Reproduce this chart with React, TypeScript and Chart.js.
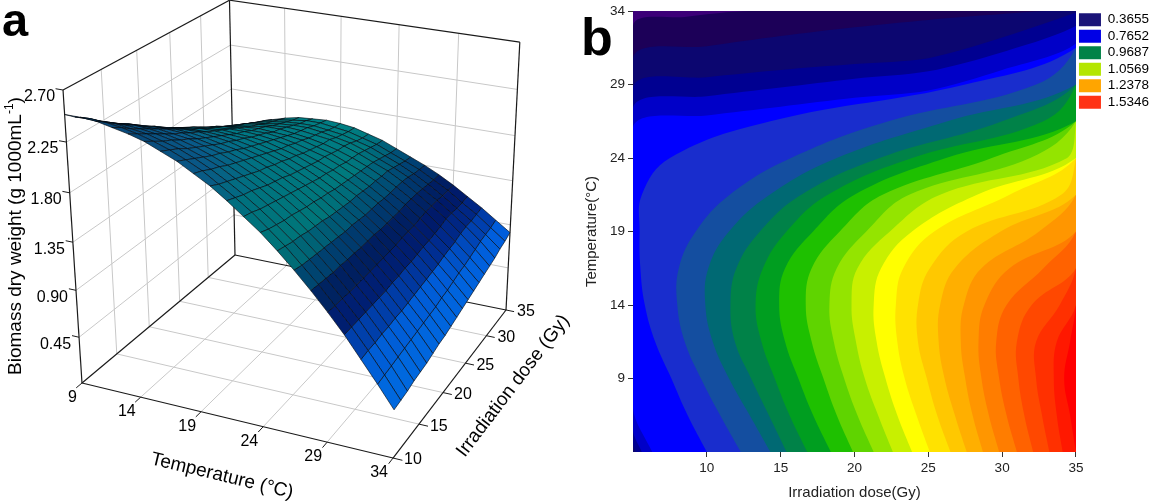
import React, { useEffect, useRef } from "react";
import { Chart, registerables } from "chart.js";

Chart.register(...registerables);

const FONT = "'Liberation Sans', Arial, Helvetica, sans-serif";

/* ======================= Panel a : response surface ======================= */
const temperatureTicks = [9, 14, 19, 24, 29, 34];
const doseTicks = [10, 15, 20, 25, 30, 35];
const biomassTicks = [0.45, 0.9, 1.35, 1.8, 2.25, 2.7];
const biomassTickLabels = ["0.45", "0.90", "1.35", "1.80", "2.25", "2.70"];

const surfaceTemperatures = [
  9, 10.25, 11.5, 12.75, 14, 15.25, 16.5, 17.75, 19, 20.25, 21.5, 22.75, 24, 25.25, 26.5, 27.75, 29, 30.25, 31.5,
  32.75, 34,
];
const surfaceDoses = [
  10, 11.25, 12.5, 13.75, 15, 16.25, 17.5, 18.75, 20, 21.25, 22.5, 23.75, 25, 26.25, 27.5, 28.75, 30, 31.25, 32.5,
  33.75, 35,
];
// biomass dry weight (g 1000 mL-1) along surfaceTemperatures, one row per dose
const biomassDose10 = [2.49, 2.49, 2.48, 2.45, 2.42, 2.38, 2.32, 2.26, 2.18, 2.1, 2.0, 1.89, 1.78, 1.65, 1.51, 1.36, 1.2, 1.03, 0.84, 0.65, 0.45];
const biomassDose11_25 = [2.42, 2.43, 2.42, 2.4, 2.37, 2.33, 2.28, 2.22, 2.15, 2.06, 1.97, 1.87, 1.75, 1.63, 1.49, 1.35, 1.19, 1.03, 0.85, 0.66, 0.46];
const biomassDose12_5 = [2.36, 2.36, 2.36, 2.34, 2.32, 2.28, 2.24, 2.18, 2.11, 2.03, 1.94, 1.84, 1.73, 1.61, 1.48, 1.34, 1.19, 1.03, 0.85, 0.67, 0.47];
const biomassDose13_75 = [2.29, 2.3, 2.3, 2.29, 2.27, 2.24, 2.19, 2.14, 2.08, 2.0, 1.92, 1.82, 1.71, 1.6, 1.47, 1.33, 1.18, 1.03, 0.86, 0.68, 0.49];
const biomassDose15 = [2.23, 2.24, 2.25, 2.24, 2.22, 2.19, 2.15, 2.1, 2.04, 1.97, 1.89, 1.8, 1.7, 1.58, 1.46, 1.33, 1.18, 1.03, 0.86, 0.69, 0.5];
const biomassDose16_25 = [2.17, 2.19, 2.19, 2.19, 2.17, 2.15, 2.11, 2.07, 2.01, 1.94, 1.86, 1.78, 1.68, 1.57, 1.45, 1.32, 1.18, 1.03, 0.87, 0.7, 0.51];
const biomassDose17_5 = [2.11, 2.13, 2.14, 2.14, 2.13, 2.1, 2.07, 2.03, 1.98, 1.91, 1.84, 1.76, 1.66, 1.56, 1.44, 1.32, 1.18, 1.03, 0.87, 0.71, 0.53];
const biomassDose18_75 = [2.05, 2.07, 2.08, 2.09, 2.08, 2.06, 2.03, 2.0, 1.95, 1.89, 1.82, 1.74, 1.65, 1.54, 1.43, 1.31, 1.18, 1.04, 0.88, 0.72, 0.55];
const biomassDose20 = [1.99, 2.02, 2.03, 2.04, 2.04, 2.02, 2.0, 1.96, 1.92, 1.86, 1.79, 1.72, 1.63, 1.53, 1.43, 1.31, 1.18, 1.04, 0.89, 0.73, 0.56];
const biomassDose21_25 = [1.93, 1.96, 1.98, 1.99, 1.99, 1.98, 1.96, 1.93, 1.89, 1.84, 1.77, 1.7, 1.62, 1.52, 1.42, 1.31, 1.18, 1.05, 0.9, 0.74, 0.58];
const biomassDose22_5 = [1.88, 1.91, 1.93, 1.95, 1.95, 1.94, 1.93, 1.9, 1.86, 1.81, 1.75, 1.68, 1.6, 1.51, 1.41, 1.3, 1.18, 1.05, 0.91, 0.76, 0.6];
const biomassDose23_75 = [1.82, 1.86, 1.89, 1.9, 1.91, 1.9, 1.89, 1.87, 1.83, 1.79, 1.73, 1.67, 1.59, 1.51, 1.41, 1.3, 1.19, 1.06, 0.92, 0.77, 0.62];
const biomassDose25 = [1.77, 1.81, 1.84, 1.86, 1.87, 1.87, 1.86, 1.84, 1.81, 1.76, 1.71, 1.65, 1.58, 1.5, 1.41, 1.3, 1.19, 1.07, 0.93, 0.79, 0.64];
const biomassDose26_25 = [1.71, 1.76, 1.79, 1.82, 1.83, 1.83, 1.83, 1.81, 1.78, 1.74, 1.7, 1.64, 1.57, 1.49, 1.4, 1.3, 1.19, 1.07, 0.95, 0.81, 0.66];
const biomassDose27_5 = [1.66, 1.71, 1.75, 1.77, 1.79, 1.8, 1.79, 1.78, 1.76, 1.72, 1.68, 1.62, 1.56, 1.49, 1.4, 1.31, 1.2, 1.08, 0.96, 0.82, 0.68];
const biomassDose28_75 = [1.61, 1.66, 1.7, 1.73, 1.75, 1.77, 1.77, 1.75, 1.73, 1.7, 1.66, 1.61, 1.55, 1.48, 1.4, 1.31, 1.21, 1.09, 0.97, 0.84, 0.7];
const biomassDose30 = [1.56, 1.62, 1.66, 1.7, 1.72, 1.73, 1.74, 1.73, 1.71, 1.69, 1.65, 1.6, 1.54, 1.48, 1.4, 1.31, 1.21, 1.11, 0.99, 0.86, 0.72];
const biomassDose31_25 = [1.52, 1.57, 1.62, 1.66, 1.68, 1.7, 1.71, 1.71, 1.69, 1.66, 1.63, 1.58, 1.52, 1.46, 1.39, 1.3, 1.21, 1.11, 1.0, 0.88, 0.74];
const biomassDose32_5 = [1.47, 1.53, 1.58, 1.62, 1.65, 1.67, 1.68, 1.68, 1.66, 1.64, 1.6, 1.56, 1.5, 1.44, 1.37, 1.29, 1.2, 1.1, 1.0, 0.89, 0.77];
const biomassDose33_75 = [1.42, 1.49, 1.54, 1.59, 1.62, 1.64, 1.66, 1.66, 1.64, 1.62, 1.58, 1.54, 1.48, 1.42, 1.36, 1.28, 1.2, 1.1, 1.01, 0.9, 0.79];
const biomassDose35 = [1.38, 1.45, 1.5, 1.55, 1.59, 1.62, 1.63, 1.64, 1.63, 1.61, 1.57, 1.53, 1.47, 1.41, 1.35, 1.28, 1.2, 1.11, 1.02, 0.92, 0.82];
const biomassGrid = [
  biomassDose10, biomassDose11_25, biomassDose12_5, biomassDose13_75, biomassDose15, biomassDose16_25,
  biomassDose17_5, biomassDose18_75, biomassDose20, biomassDose21_25, biomassDose22_5, biomassDose23_75,
  biomassDose25, biomassDose26_25, biomassDose27_5, biomassDose28_75, biomassDose30, biomassDose31_25,
  biomassDose32_5, biomassDose33_75, biomassDose35,
];

/* ======================= Panel b : contour map ======================= */
const contourDoseRange = [5, 35];
const contourTempRange = [4, 34];
const contourDoseTicks = [10, 15, 20, 25, 30, 35];
const contourTempTicks = [9, 14, 19, 24, 29, 34];
const legendValues = ["0.3655", "0.7652", "0.9687", "1.0569", "1.2378", "1.5346"];
const legendColors = ["#1a1478", "#0000e6", "#008248", "#b4e600", "#ffa500", "#ff3214"];
// colour of each contour band, from the lowest level to the highest
const bandColors = [
  "rgb(60,0,120)", "rgb(28,0,88)", "rgb(12,6,112)", "rgb(0,0,145)", "rgb(0,0,200)", "rgb(0,0,255)",
  "rgb(25,45,205)", "rgb(20,78,160)", "rgb(0,105,115)", "rgb(0,130,72)", "rgb(0,158,32)",
  "rgb(30,192,0)", "rgb(95,212,0)", "rgb(148,228,0)", "rgb(200,240,0)", "rgb(255,255,0)",
  "rgb(255,226,0)", "rgb(255,200,0)", "rgb(255,175,0)", "rgb(255,150,0)", "rgb(255,125,0)",
  "rgb(255,98,0)", "rgb(255,72,0)", "rgb(255,48,0)", "rgb(255,24,0)", "rgb(255,0,0)",
];
// upper (dark) level lines as [dose, temperature] points
const darkLevelLines = [
  [[5, 4], [5, 33.0], [8.5, 33.6], [13, 34]],
  [[5, 4], [5, 30.8], [10, 31.6], [15, 32.3], [20, 32.9], [25, 33.4], [30, 33.8], [33, 34]],
  [[5.2, 4], [5, 4.6], [5, 28.8], [10, 29.5], [15, 30.0], [20, 30.4], [25, 30.8], [30, 32.2], [35, 33.9]],
  [[5.6, 4], [5, 5.5], [5, 27.4], [10, 28.2], [15, 28.8], [20, 29.4], [25, 29.9], [30, 31.2], [35, 33.0]],
  [[6.3, 4], [5, 7], [5, 26.1], [10, 26.9], [15, 27.5], [20, 28.1], [25, 28.6], [30, 30.0], [35, 31.8]],
];
// C-shaped level lines: dose of each line at these temperatures
const levelTemperatures = [4, 6.5, 9, 11.5, 14, 16.5, 19, 21.5, 24, 26.5, 29, 31.5, 34];
const levelLineDoses = [
  [10.0, 8.7, 7.6, 6.5, 5.8, 5.5, 5.45, 5.6, 7.5, 14.3, 27.5, 35, 35],
  [12.3, 10.9, 9.6, 8.5, 8.0, 8.1, 9.25, 11.55, 15.7, 22.3, 32.3, 35, 35],
  [14.3, 12.9, 11.5, 10.4, 9.9, 10.1, 11.5, 14.25, 18.8, 26.3, 35, 35, 35],
  [15.4, 14.2, 13.0, 11.9, 11.6, 12.0, 13.6, 16.4, 21.7, 30.0, 35, 35, 35],
  [16.8, 15.6, 14.6, 13.7, 13.3, 13.8, 15.4, 18.2, 23.9, 32.8, 35, 35, 35],
  [18.4, 17.2, 16.2, 15.3, 14.9, 15.3, 17.2, 20.0, 26.2, 35, 35, 35, 35],
  [19.9, 18.8, 17.9, 17.1, 16.7, 17.1, 19.0, 21.9, 29.3, 35, 35, 35, 35],
  [21.3, 20.2, 19.3, 18.6, 18.3, 18.8, 20.8, 23.7, 31.9, 35, 35, 35, 35],
  [22.6, 21.6, 20.7, 20.1, 19.8, 20.2, 22.4, 25.8, 34.4, 35, 35, 35, 35],
  [23.9, 22.9, 22.1, 21.5, 21.3, 21.8, 23.9, 28.3, 35, 35, 35, 35, 35],
  [25.1, 24.2, 23.4, 22.9, 22.8, 23.3, 25.4, 30.5, 35, 35, 35, 35, 35],
  [26.5, 25.6, 24.9, 24.3, 24.3, 25.1, 27.6, 34.0, 35, 35, 35, 35, 35],
  [27.6, 26.8, 26.1, 25.7, 25.8, 26.8, 29.9, 35, 35, 35, 35, 35, 35],
  [28.7, 28.0, 27.5, 27.2, 27.4, 28.6, 32.5, 35, 35, 35, 35, 35, 35],
  [29.8, 29.1, 28.6, 28.4, 28.8, 30.5, 35, 35, 35, 35, 35, 35, 35],
  [31.0, 30.3, 29.8, 29.6, 30.3, 32.8, 35, 35, 35, 35, 35, 35, 35],
  [32.1, 31.5, 31.1, 31.0, 32.0, 35, 35, 35, 35, 35, 35, 35, 35],
  [33.2, 32.7, 32.3, 32.3, 33.9, 35, 35, 35, 35, 35, 35, 35, 35],
  [34.1, 33.7, 33.5, 33.7, 35, 35, 35, 35, 35, 35, 35, 35, 35],
  [35, 34.6, 34.2, 34.6, 35, 35, 35, 35, 35, 35, 35, 35, 35],
];

/* ======================= styles / view ======================= */
const PANEL_A_W = 575;
const PANEL_H = 504;
const PANEL_B_W = 584;
const GRID_GRAY = "rgb(200,200,200)";
const EDGE_COLOR = "#1a1a1a";
// perspective view of the 3-D box (panel a screen units)
const VIEW = {
  origin: [82, 383],
  tempAxis: [283.7, 43.2],
  doseAxis: [194.5, -83.0],
  biomassAxis: [-23.7, -299.75],
  persp: [-0.0695, 0.1766, -0.075],
};
const SURFACE_STOPS: any[] = [
  [0.4, [0, 125, 255]],
  [0.85, [0, 100, 235]],
  [1.02, [0, 45, 150]],
  [1.2, [0, 22, 100]],
  [1.4, [0, 70, 122]],
  [1.6, [0, 128, 132]],
  [1.9, [0, 124, 137]],
  [2.15, [10, 95, 145]],
  [2.4, [10, 78, 130]],
  [2.6, [5, 62, 108]],
];

const T_LO = temperatureTicks[0];
const T_HI = temperatureTicks[temperatureTicks.length - 1];
const D_LO = doseTicks[0];
const D_HI = doseTicks[doseTicks.length - 1];
const B_HI = biomassTicks[biomassTicks.length - 1];

function normalized(t: number, d: number, b: number) {
  return [(t - T_LO) / (T_HI - T_LO), (d - D_LO) / (D_HI - D_LO), b / B_HI];
}

function project(t: number, d: number, b: number) {
  const [X, Y, Z] = normalized(t, d, b);
  const w = 1 + VIEW.persp[0] * X + VIEW.persp[1] * Y + VIEW.persp[2] * Z;
  const x = (VIEW.origin[0] + VIEW.tempAxis[0] * X + VIEW.doseAxis[0] * Y + VIEW.biomassAxis[0] * Z) / w;
  const y = (VIEW.origin[1] + VIEW.tempAxis[1] * X + VIEW.doseAxis[1] * Y + VIEW.biomassAxis[1] * Z) / w;
  return { x, y, w };
}

function surfaceColor(b: number, shade: number) {
  let c = SURFACE_STOPS[0][1];
  if (b >= SURFACE_STOPS[SURFACE_STOPS.length - 1][0]) c = SURFACE_STOPS[SURFACE_STOPS.length - 1][1];
  else {
    for (let i = 0; i < SURFACE_STOPS.length - 1; i++) {
      const [b0, c0] = SURFACE_STOPS[i];
      const [b1, c1] = SURFACE_STOPS[i + 1];
      if (b >= b0 && b <= b1) {
        const f = (b - b0) / (b1 - b0);
        c = [0, 1, 2].map((k) => c0[k] + (c1[k] - c0[k]) * f);
        break;
      }
    }
  }
  const r = c.map((v: number) => Math.max(0, Math.min(255, Math.round(v * shade))));
  return `rgb(${r[0]},${r[1]},${r[2]})`;
}

function buildSurfaceDatasets() {
  const paint: any[] = [];
  const P = (t: number, d: number, b: number) => {
    const p = project(t, d, b);
    return { x: p.x, y: p.y };
  };
  const seg = (p: any, q: any, color: string, width: number) =>
    paint.push({ data: [p, q], borderColor: color, borderWidth: width, pointRadius: 0, fill: false, tension: 0 });

  // back walls and floor grid
  biomassTicks.slice(0, -1).forEach((b) => {
    seg(P(T_LO, D_LO, b), P(T_LO, D_HI, b), GRID_GRAY, 1);
    seg(P(T_LO, D_HI, b), P(T_HI, D_HI, b), GRID_GRAY, 1);
  });
  doseTicks.slice(1, -1).forEach((d) => {
    seg(P(T_LO, d, 0), P(T_LO, d, B_HI), GRID_GRAY, 1);
    seg(P(T_LO, d, 0), P(T_HI, d, 0), GRID_GRAY, 1);
  });
  temperatureTicks.slice(1, -1).forEach((t) => {
    seg(P(t, D_HI, 0), P(t, D_HI, B_HI), GRID_GRAY, 1);
    seg(P(t, D_LO, 0), P(t, D_HI, 0), GRID_GRAY, 1);
  });
  // box edges
  [[T_LO, D_LO], [T_LO, D_HI], [T_HI, D_HI]].forEach(([t, d]) => seg(P(t, d, 0), P(t, d, B_HI), EDGE_COLOR, 1.2));
  seg(P(T_LO, D_LO, B_HI), P(T_LO, D_HI, B_HI), EDGE_COLOR, 1.2);
  seg(P(T_LO, D_HI, B_HI), P(T_HI, D_HI, B_HI), EDGE_COLOR, 1.2);
  seg(P(T_LO, D_LO, 0), P(T_HI, D_LO, 0), EDGE_COLOR, 1.2);
  seg(P(T_HI, D_LO, 0), P(T_HI, D_HI, 0), EDGE_COLOR, 1.2);
  seg(P(T_LO, D_LO, 0), P(T_LO, D_HI, 0), EDGE_COLOR, 1.2);
  seg(P(T_LO, D_HI, 0), P(T_HI, D_HI, 0), EDGE_COLOR, 1.2);
  // tick marks
  biomassTicks.forEach((b) => seg(P(T_LO, D_LO, b), P(T_LO - 0.6, D_LO, b), EDGE_COLOR, 1));
  temperatureTicks.forEach((t) => seg(P(t, D_LO, 0), P(t, D_LO - 0.8, 0), EDGE_COLOR, 1));
  doseTicks.forEach((d) => seg(P(T_HI, d, 0), P(T_HI + 0.7, d, 0), EDGE_COLOR, 1));

  // surface mesh (painter's order: far to near)
  const L = [-0.4, -0.6, 0.7];
  const Ln = Math.hypot(L[0], L[1], L[2]);
  const quads: any[] = [];
  for (let j = 0; j < surfaceDoses.length - 1; j++) {
    for (let i = 0; i < surfaceTemperatures.length - 1; i++) {
      const corners = [
        [surfaceTemperatures[i], surfaceDoses[j], biomassGrid[j][i]],
        [surfaceTemperatures[i + 1], surfaceDoses[j], biomassGrid[j][i + 1]],
        [surfaceTemperatures[i + 1], surfaceDoses[j + 1], biomassGrid[j + 1][i + 1]],
        [surfaceTemperatures[i], surfaceDoses[j + 1], biomassGrid[j + 1][i]],
      ];
      const pr = corners.map(([t, d, b]) => project(t, d, b));
      const nw = corners.map(([t, d, b]) => normalized(t, d, b));
      const a = [0, 1, 2].map((k) => nw[2][k] - nw[0][k]);
      const c = [0, 1, 2].map((k) => nw[3][k] - nw[1][k]);
      let n = [a[1] * c[2] - a[2] * c[1], a[2] * c[0] - a[0] * c[2], a[0] * c[1] - a[1] * c[0]];
      const nl = Math.hypot(n[0], n[1], n[2]);
      n = n.map((v) => v / nl);
      const ndl = (n[0] * L[0] + n[1] * L[1] + n[2] * L[2]) / Ln;
      const shade = Math.max(0.7, Math.min(1.1, 0.88 + 0.18 * ndl));
      const meanB = (corners[0][2] + corners[1][2] + corners[2][2] + corners[3][2]) / 4;
      quads.push({
        depth: (pr[0].w + pr[1].w + pr[2].w + pr[3].w) / 4,
        pts: [...pr, pr[0]].map((p) => ({ x: p.x, y: p.y })),
        color: surfaceColor(meanB, shade),
      });
    }
  }
  quads.sort((p, q) => q.depth - p.depth);
  quads.forEach((q) =>
    paint.push({
      data: q.pts,
      fill: "shape",
      backgroundColor: q.color,
      borderColor: "rgba(3,8,14,0.9)",
      borderWidth: 0.7,
      pointRadius: 0,
      tension: 0,
    })
  );
  return paint.map((ds, i) => ({ ...ds, order: paint.length - i }));
}

function drawAlong(ctx: any, text: string, p0: any, p1: any, along: number, offset: number) {
  const dx = p1.x - p0.x;
  const dy = p1.y - p0.y;
  const len = Math.hypot(dx, dy);
  const ux = dx / len;
  const uy = dy / len;
  const nx = -uy;
  const ny = ux;
  const cx = (p0.x + p1.x) / 2 + ux * along + nx * offset;
  const cy = (p0.y + p1.y) / 2 + uy * along + ny * offset;
  ctx.save();
  ctx.translate(cx, cy);
  ctx.rotate(Math.atan2(dy, dx));
  ctx.textAlign = "center";
  ctx.textBaseline = "middle";
  ctx.fillText(text, 0, 0);
  ctx.restore();
}

const surfaceLabelsPlugin = {
  id: "surfaceLabels",
  afterDraw(chart: any) {
    const { ctx } = chart;
    const sx = chart.scales.x;
    const sy = chart.scales.y;
    const px = (p: any) => ({ x: sx.getPixelForValue(p.x), y: sy.getPixelForValue(p.y) });
    ctx.save();
    ctx.fillStyle = "#000";
    ctx.font = `16px ${FONT}`;
    ctx.textAlign = "right";
    ctx.textBaseline = "middle";
    biomassTicks.forEach((b, i) => {
      const p = px(project(T_LO, D_LO, b));
      ctx.fillText(biomassTickLabels[i], p.x - 8, p.y + 7);
    });
    temperatureTicks.forEach((t) => {
      const p = px(project(t, D_LO, 0));
      ctx.fillText(String(t), p.x - 5, p.y + 14.5);
    });
    ctx.textAlign = "left";
    doseTicks.forEach((d) => {
      const p = px(project(T_HI, d, 0));
      ctx.fillText(String(d), p.x + 11, p.y + 2);
    });

    ctx.font = `19px ${FONT}`;
    const a0 = px(project(T_LO, D_LO, 0));
    const b0 = px(project(T_HI, D_LO, 0));
    const c0 = px(project(T_HI, D_HI, 0));
    drawAlong(ctx, "Temperature (\u00B0C)", a0, b0, -2, 57.5);
    drawAlong(ctx, "Irradiation dose (Gy)", b0, c0, 37, 51.7);

    // vertical axis title with superscript
    const main = "Biomass dry weight (g 1000mL";
    const sup = "-1";
    const close = ")";
    ctx.save();
    ctx.translate(14, 236);
    ctx.rotate(-Math.PI / 2);
    ctx.textAlign = "left";
    ctx.textBaseline = "alphabetic";
    ctx.font = `19px ${FONT}`;
    const wMain = ctx.measureText(main).width;
    const wClose = ctx.measureText(close).width;
    ctx.font = `12px ${FONT}`;
    const wSup = ctx.measureText(sup).width;
    let x = -(wMain + wSup + wClose) / 2;
    ctx.font = `19px ${FONT}`;
    ctx.fillText(main, x, 7);
    x += wMain;
    ctx.font = `12px ${FONT}`;
    ctx.fillText(sup, x, -1);
    x += wSup;
    ctx.font = `19px ${FONT}`;
    ctx.fillText(close, x, 7);
    ctx.restore();

    ctx.font = `bold 47px ${FONT}`;
    ctx.textAlign = "left";
    ctx.textBaseline = "alphabetic";
    ctx.fillText("a", 2, 36);
    ctx.restore();
  },
};

function buildContourDatasets() {
  const [dLo, dHi] = contourDoseRange;
  const [tLo, tHi] = contourTempRange;
  const paint: any[] = [];
  const poly = (pts: number[][], color: string, tension: number) =>
    paint.push({
      data: pts.map(([x, y]) => ({ x, y })),
      fill: "shape",
      backgroundColor: color,
      borderWidth: 0,
      pointRadius: 0,
      tension,
    });
  poly([[dLo, tLo], [dHi, tLo], [dHi, tHi], [dLo, tHi]], bandColors[0], 0);
  darkLevelLines.forEach((pts, k) => poly([...pts, [dHi, tHi], [dHi, tLo]], bandColors[k + 1], 0.3));
  const offset = darkLevelLines.length + 1;
  levelLineDoses.forEach((row, k) =>
    poly(
      [...row.map((d, i) => [d, levelTemperatures[i]]), [dHi, tHi], [dHi, tLo]],
      bandColors[k + offset],
      0.4
    )
  );
  return paint.map((ds, i) => ({ ...ds, order: paint.length - i }));
}

const panelLetterPlugin = {
  id: "panelLetterB",
  afterDraw(chart: any) {
    const { ctx } = chart;
    ctx.save();
    ctx.fillStyle = "#000";
    ctx.font = `bold 52px ${FONT}`;
    ctx.textAlign = "left";
    ctx.textBaseline = "alphabetic";
    ctx.fillText("b", 6, 55);
    ctx.restore();
  },
};

export default function App() {
  const refA = useRef<HTMLCanvasElement>(null);
  const refB = useRef<HTMLCanvasElement>(null);

  useEffect(() => {
    document.body.style.margin = "0";
    Chart.defaults.font.family = FONT;

    const chartA = new Chart(refA.current as any, {
      type: "line",
      data: { datasets: buildSurfaceDatasets() as any },
      options: {
        animation: false,
        responsive: false,
        events: [],
        layout: { padding: 0 },
        plugins: { legend: { display: false }, tooltip: { enabled: false } },
        scales: {
          x: { type: "linear", min: 0, max: PANEL_A_W, display: false },
          y: { type: "linear", min: 0, max: PANEL_H, reverse: true, display: false },
        },
      } as any,
      plugins: [surfaceLabelsPlugin],
    });

    const chartB = new Chart(refB.current as any, {
      type: "line",
      data: { datasets: buildContourDatasets() as any },
      options: {
        animation: false,
        responsive: false,
        events: [],
        layout: { padding: { top: 10, left: 0, right: 0, bottom: 0 } },
        plugins: {
          tooltip: { enabled: false },
          legend: {
            position: "right",
            align: "start",
            labels: {
              boxWidth: 22,
              boxHeight: 13,
              padding: 3,
              color: "#111",
              font: { size: 13.5, family: FONT },
              generateLabels: () =>
                legendValues.map((v, i) => ({
                  text: v,
                  fillStyle: legendColors[i],
                  strokeStyle: legendColors[i],
                  lineWidth: 0,
                  hidden: false,
                  index: i,
                })),
            },
          },
        },
        scales: {
          x: {
            type: "linear",
            min: contourDoseRange[0],
            max: contourDoseRange[1],
            afterBuildTicks: (s: any) => {
              s.ticks = contourDoseTicks.map((v) => ({ value: v }));
            },
            afterFit: (s: any) => {
              s.height = 52;
            },
            ticks: { color: "#222", font: { size: 13.5, family: FONT }, padding: 3 },
            grid: { drawOnChartArea: false, drawTicks: true, tickLength: 5, color: "#333" },
            border: { display: false },
            title: {
              display: true,
              text: "Irradiation dose(Gy)",
              color: "#222",
              font: { size: 15, family: FONT },
              padding: { top: 0, bottom: 2 },
            },
          },
          y: {
            type: "linear",
            min: contourTempRange[0],
            max: contourTempRange[1],
            afterBuildTicks: (s: any) => {
              s.ticks = contourTempTicks.map((v) => ({ value: v }));
            },
            afterFit: (s: any) => {
              s.width = 58;
            },
            ticks: { color: "#222", font: { size: 13.5, family: FONT }, padding: 3 },
            grid: { drawOnChartArea: false, drawTicks: true, tickLength: 5, color: "#333" },
            border: { display: false },
            title: {
              display: true,
              text: "Temperature(\u00B0C)",
              color: "#222",
              font: { size: 15, family: FONT },
              padding: { top: 7.5, bottom: 0 },
            },
          },
        },
      } as any,
      plugins: [panelLetterPlugin],
    });

    return () => {
      chartA.destroy();
      chartB.destroy();
    };
  }, []);

  return (
    <div
      style={{
        position: "fixed",
        left: 0,
        top: 0,
        width: 1150,
        height: PANEL_H,
        overflow: "hidden",
        background: "#fff",
      }}
    >
      <canvas ref={refA} width={PANEL_A_W} height={PANEL_H} style={{ position: "absolute", left: 0, top: 0 }} />
      <canvas ref={refB} width={PANEL_B_W} height={PANEL_H} style={{ position: "absolute", left: 575, top: 0 }} />
    </div>
  );
}
